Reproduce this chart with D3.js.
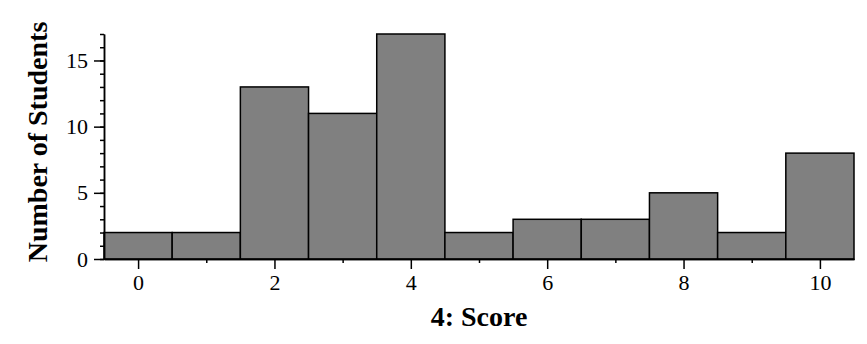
<!DOCTYPE html>
<html>
<head>
<meta charset="utf-8">
<script src="https://cdn.jsdelivr.net/npm/d3@7"></script>
<style>
	body { margin: 0; background: #fff; }
	svg { display: block; }
</style>
</head>
<body>
<svg id="chart" width="867" height="344"></svg>
<script>
// histogram data
var scores = [ 0, 1, 2, 3, 4, 5, 6, 7, 8, 9, 10 ];
var counts = [ 2, 2, 13, 11, 17, 2, 3, 3, 5, 2, 8 ];
var xMajorTicks = [ 0, 2, 4, 6, 8, 10 ];
var xMinorTicks = [ 1, 3, 5, 7, 9 ];
var yMajorTicks = [ 0, 5, 10, 15 ];
var yMinorTicks = d3.range( 0, 18 );
var xLabel = '4: Score';
var yLabel = 'Number of Students';

var svg = d3.select( '#chart' );
var margin = { top: 34, right: 13, bottom: 85, left: 104 };
var width = +svg.attr( 'width' ) - margin.left - margin.right;
var height = +svg.attr( 'height' ) - margin.top - margin.bottom;
var font = '"Liberation Serif", "Times New Roman", serif';

var g = svg.append( 'g' )
	.attr( 'transform', 'translate(' + margin.left + ',' + margin.top + ')' );

var x = d3.scaleLinear()
	.domain( [ -0.5, 10.5 ] )
	.range( [ 0, width ] );

var y = d3.scaleLinear()
	.domain( [ 0, 17 ] )
	.range( [ height, 0 ] );

// bars
g.selectAll( 'rect.bar' )
	.data( scores )
	.enter()
	.append( 'rect' )
	.attr( 'class', 'bar' )
	.attr( 'x', function( d ) { return x( d - 0.5 ); } )
	.attr( 'width', function( d ) { return x( d + 0.5 ) - x( d - 0.5 ); } )
	.attr( 'y', function( d, i ) { return y( counts[ i ] ); } )
	.attr( 'height', function( d, i ) { return y( 0 ) - y( counts[ i ] ); } )
	.attr( 'fill', '#808080' )
	.attr( 'stroke', '#000' )
	.attr( 'stroke-width', 1.5 );

// x axis: minor then major ticks
g.append( 'g' )
	.attr( 'transform', 'translate(0,' + height + ')' )
	.call( d3.axisBottom( x ).tickValues( xMinorTicks ).tickSize( 4 ).tickSizeOuter( 0 ).tickFormat( '' ) );

g.append( 'g' )
	.attr( 'transform', 'translate(0,' + height + ')' )
	.call( d3.axisBottom( x ).tickValues( xMajorTicks ).tickSize( 10 ).tickSizeOuter( 0 ).tickPadding( 5 ).tickFormat( d3.format( 'd' ) ) );

// y axis
g.append( 'g' )
	.call( d3.axisLeft( y ).tickValues( yMinorTicks ).tickSize( 4 ).tickSizeOuter( 0 ).tickFormat( '' ) );

g.append( 'g' )
	.call( d3.axisLeft( y ).tickValues( yMajorTicks ).tickSize( 10 ).tickSizeOuter( 0 ).tickPadding( 6 ).tickFormat( d3.format( 'd' ) ) );

g.selectAll( '.domain, .tick line' )
	.attr( 'stroke', '#000' )
	.attr( 'stroke-width', 1.5 );

g.selectAll( '.tick text' )
	.attr( 'fill', '#000' )
	.style( 'font-family', font )
	.style( 'font-size', '22px' );

// axis titles
g.append( 'text' )
	.attr( 'x', width / 2 )
	.attr( 'y', height + 67 )
	.attr( 'text-anchor', 'middle' )
	.style( 'font-family', font )
	.style( 'font-size', '28px' )
	.style( 'font-weight', 'bold' )
	.text( xLabel );

g.append( 'text' )
	.attr( 'transform', 'translate(' + ( -57 ) + ',' + ( 108 ) + ') rotate(-90)' )
	.attr( 'text-anchor', 'middle' )
	.style( 'font-family', font )
	.style( 'font-size', '28px' )
	.style( 'font-weight', 'bold' )
	.text( yLabel );
</script>
</body>
</html>
